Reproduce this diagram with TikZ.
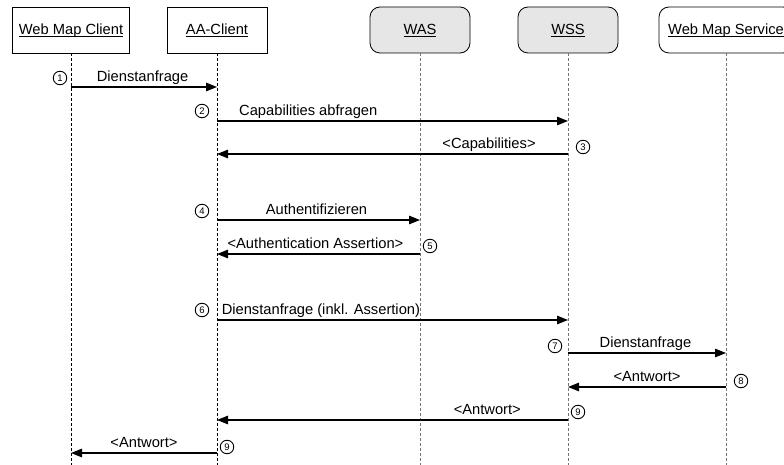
\documentclass[tikz,border=0pt]{standalone}
\usepackage{fontspec}
\setmainfont{Liberation Sans}
\usetikzlibrary{arrows.meta}
\definecolor{boxgray}{RGB}{230,230,230}
\newcommand{\myul}[1]{\setbox0\hbox{#1}\rlap{\rule[-2.4pt]{\wd0}{0.8pt}}\box0}
\begin{document}
\begin{tikzpicture}[x=1pt,y=-1pt,
  font=\fontsize{14.7}{16}\selectfont,
  actor/.style={draw=black, line width=0.8pt, minimum width=#1, minimum height=46pt, inner sep=0pt, fill=white, text height=10.6pt, text depth=2pt},
  ractor/.style={actor=#1, rounded corners=10pt},
  life/.style={dash pattern=on 3pt off 2pt, line width=0.8pt},
  msg/.style={line width=1.2pt, -{Triangle[length=11pt,width=8.5pt]}},
  lbl/.style={anchor=south, inner sep=1.5pt, text height=10.6pt, text depth=3pt},
  num/.style={circle, draw, line width=0.9pt, minimum size=13.5pt, inner sep=0pt, font=\fontsize{9.5}{10}\selectfont}
]
\useasboundingbox (0,0) rectangle (784,465);
\fill[white] (0,0) rectangle (784,465);

% actors
\node[actor=117pt] (wmc) at (71,30) {\myul{Web Map Client}};
\node[actor=100pt] (aa) at (217,30) {\myul{AA-Client}};
\node[ractor=100pt, fill=boxgray] (was) at (420,30) {\myul{WAS}};
\node[ractor=100pt, fill=boxgray] (wss) at (568,30) {\myul{WSS}};
\node[ractor=134pt] (wms) at (726,30) {\myul{Web Map Service}};

% lifeline ends
\coordinate (bot) at (0,465);
\draw[life, black] (wmc.south) -- (wmc |- bot);
\draw[life, black] (aa.south) -- (aa |- bot);
\draw[life, black!55] (was.south) -- (was |- bot);
\draw[life, black!55] (wss.south) -- (wss |- bot);
\draw[life, black!55] (wms.south) -- (wms |- bot);

% message levels
\coordinate (y1) at (0,87);
\coordinate (y2) at (0,121);
\coordinate (y3) at (0,154);
\coordinate (y4) at (0,220);
\coordinate (y5) at (0,254);
\coordinate (y6) at (0,320);
\coordinate (y7) at (0,353);
\coordinate (y8) at (0,387);
\coordinate (y9) at (0,420);
\coordinate (y10) at (0,453);

% messages
\draw[msg] (wmc |- y1) -- node[lbl, pos=0.49] {Dienstanfrage} (aa |- y1);
\draw[msg] (aa |- y2) -- node[lbl, pos=0.26] {Capabilities abfragen} (wss |- y2);
\draw[msg] (wss |- y3) -- node[lbl, pos=0.225] {<Capabilities>} (aa |- y3);
\draw[msg] (aa |- y4) -- node[lbl, pos=0.49] {Authentifizieren} (was |- y4);
\draw[msg] (was |- y5) -- node[lbl, pos=0.515] {<Authentication Assertion>} (aa |- y5);
\draw[msg] (aa |- y6) -- node[lbl, pos=0.296] {Dienstanfrage (inkl. Assertion)} (wss |- y6);
\draw[msg] (wss |- y7) -- node[lbl, pos=0.49] {Dienstanfrage} (wms |- y7);
\draw[msg] (wms |- y8) -- node[lbl, pos=0.5] {<Antwort>} (wss |- y8);
\draw[msg] (wss |- y9) -- node[lbl, pos=0.23] {<Antwort>} (aa |- y9);
\draw[msg] (aa |- y10) -- node[lbl, pos=0.5] {<Antwort>} (wmc |- y10);

% step numbers
\node[num] (n1) at (60,78) {1};
\node[num] (n2) at (202,111) {2};
\node[num] (n3) at (583,147) {3};
\node[num] (n4) at (202,211) {4};
\node[num] (n5) at (430,246) {5};
\node[num] (n6) at (202,310) {6};
\node[num] (n7) at (555,346) {7};
\node[num] (n8) at (741,381) {8};
\node[num] (n9) at (578,412) {9};
\node[num] (n9b) at (227,447) {9};
\end{tikzpicture}
\end{document}
